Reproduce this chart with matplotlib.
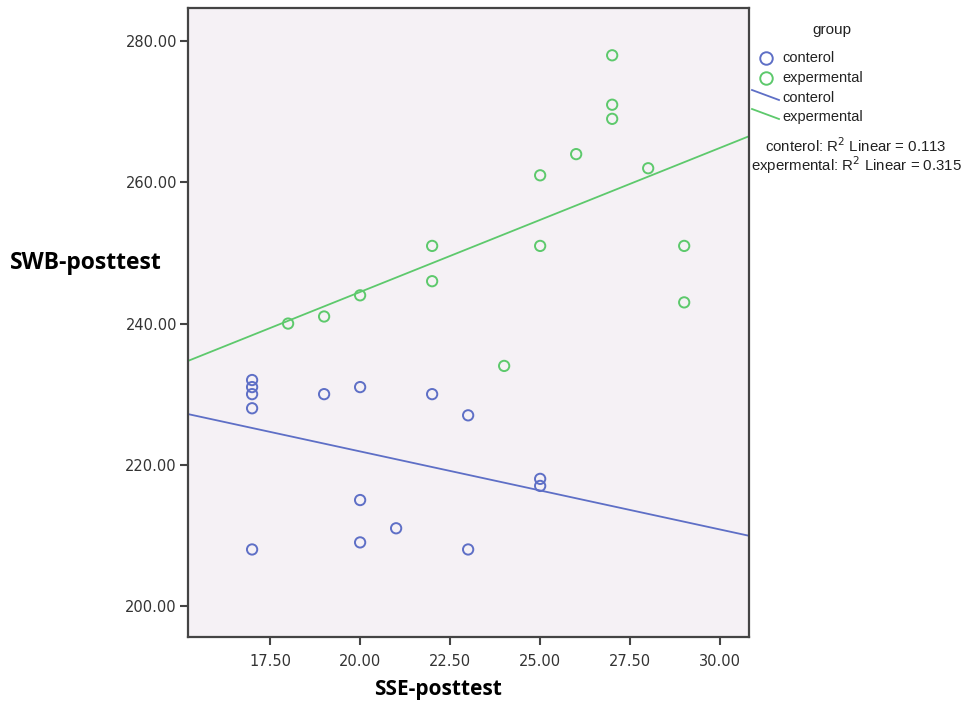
"""
SSE-posttest vs SWB-posttest, scatter with linear fit per group
"""

import matplotlib.pyplot as plt
import numpy as np

# control group
ctrl_x = [17, 17, 17, 17, 17, 19, 20, 20, 20, 21, 22, 23, 23, 25, 25]
ctrl_y = [232, 231, 230, 228, 208, 230, 231, 215, 209, 211, 230, 227, 208, 218, 217]

# experimental group
exp_x = [18, 19, 20, 22, 22, 24, 25, 25, 26, 27, 27, 27, 28, 29, 29]
exp_y = [240, 241, 244, 251, 246, 234, 261, 251, 264, 278, 271, 269, 262, 251, 243]

group_names = ['conterol', 'expermental']
r2_labels = ['conterol: R$^2$ Linear = 0.113', 'expermental: R$^2$ Linear = 0.315']
x_ticks = [17.5, 20.0, 22.5, 25.0, 27.5, 30.0]
y_ticks = [200, 220, 240, 260, 280]

COLORES = {'ctrl': '#5e6fc6', 'exp': '#5dc96c', 'fondo': '#f5f1f5', 'borde': '#444444'}

fig = plt.figure(figsize=(9.66, 7.04), dpi=100)
ax = fig.add_axes([188 / 966, 1 - 637 / 704, (749 - 188) / 966, (637 - 8) / 704])
ax.set_facecolor(COLORES['fondo'])

xlim = (15.22, 30.8)
ylim = (195.6, 284.7)
ax.set_xlim(*xlim)
ax.set_ylim(*ylim)

ax.scatter(ctrl_x, ctrl_y, s=55, facecolors='none', edgecolors=COLORES['ctrl'],
           linewidths=1.4, zorder=3)
ax.scatter(exp_x, exp_y, s=55, facecolors='none', edgecolors=COLORES['exp'],
           linewidths=1.4, zorder=3)

# lineas de ajuste sobre todo el rango del eje
xs = np.array(xlim)
for gx, gy, col in [(ctrl_x, ctrl_y, COLORES['ctrl']), (exp_x, exp_y, COLORES['exp'])]:
    m, b = np.polyfit(gx, gy, 1)
    ax.plot(xs, m * xs + b, color=col, linewidth=1.3, zorder=2)

ax.set_xticks(x_ticks)
ax.set_yticks(y_ticks)
ax.set_xticklabels([f'{v:.2f}' for v in x_ticks])
ax.set_yticklabels([f'{v:.2f}' for v in y_ticks])
ax.tick_params(axis='both', direction='out', length=6, width=1.5,
               color=COLORES['borde'], labelsize=10.5, labelcolor='#333333', pad=2)
ax.tick_params(axis='x', pad=6)
for lbl in ax.get_xticklabels() + ax.get_yticklabels():
    lbl.set_family(['Liberation Sans Narrow', 'DejaVu Sans'])
for sp in ax.spines.values():
    sp.set_color(COLORES['borde'])
    sp.set_linewidth(1.6)

fig.text(10 / 966, 1 - 263 / 704, 'SWB-posttest', fontsize=16.5, fontweight='bold',
         family=['Open Sans', 'DejaVu Sans'], va='center', ha='left', color='black')
fig.text(438 / 966, 1 - 690 / 704, 'SSE-posttest', fontsize=15, fontweight='bold',
         family=['Open Sans', 'DejaVu Sans'], va='center', ha='center', color='black')

# leyenda hecha a mano
fam = ['Liberation Sans', 'DejaVu Sans']
fig.text(832 / 966, 1 - 30 / 704, 'group', fontsize=11, family=fam,
         ha='center', va='center', color='#222222')
leg_rows = [58, 78, 98, 117]
for i, (nombre, col) in enumerate(zip(group_names, [COLORES['ctrl'], COLORES['exp']])):
    y = 1 - leg_rows[i] / 704
    fig.lines.append(plt.Line2D([766 / 966], [y], marker='o', markersize=9,
                                markerfacecolor='none', markeredgecolor=col,
                                markeredgewidth=1.4, linestyle='none',
                                transform=fig.transFigure))
    fig.text(782 / 966, y, nombre, fontsize=10.5, family=fam, ha='left',
             va='center', color='#222222')
for i, (nombre, col) in enumerate(zip(group_names, [COLORES['ctrl'], COLORES['exp']])):
    y = 1 - leg_rows[i + 2] / 704
    fig.lines.append(plt.Line2D([752 / 966, 779 / 966], [y + 8 / 704, y - 2 / 704],
                                color=col, linewidth=1.3, transform=fig.transFigure))
    fig.text(782 / 966, y, nombre, fontsize=10.5, family=fam, ha='left',
             va='center', color='#222222')
for i, txt in enumerate(r2_labels):
    fig.text(856 / 966, 1 - (146 + 19 * i) / 704, txt, fontsize=10.8, family=fam,
             ha='center', va='center', color='#222222')

plt.savefig('out.png', dpi=100)
